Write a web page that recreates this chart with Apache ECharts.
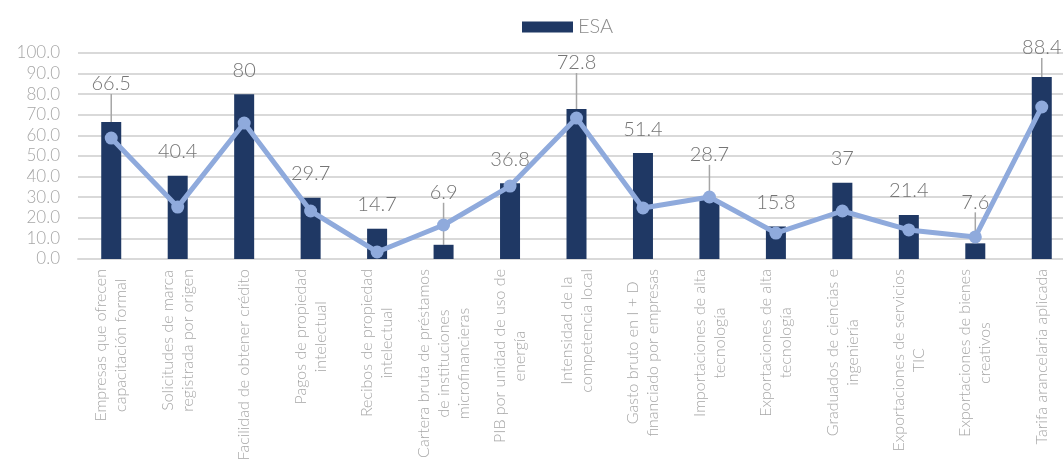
<!DOCTYPE html>
<html>
<head>
<meta charset="utf-8">
<script src="https://cdn.jsdelivr.net/npm/echarts@6/dist/echarts.min.js"></script>
<style>
  html, body { margin: 0; padding: 0; background: #fff; }
  #chart { width: 1063px; height: 469px; }
</style>
</head>
<body>
<div id="chart"></div>
<script>
  // categorias del eje x (saltos de linea como en el original)
  var categories = [
    'Empresas que ofrecen\ncapacitación formal',
    'Solicitudes de marca\nregistrada por origen',
    'Facilidad de obtener crédito',
    'Pagos de propiedad\nintelectual',
    'Recibos de propiedad\nintelectual',
    'Cartera bruta de préstamos\nde instituciones\nmicrofinancieras',
    'PIB por unidad de uso de\nenergía',
    'Intensidad de la\ncompetencia local',
    'Gasto bruto en I + D\nfinanciado por empresas',
    'Importaciones de alta\ntecnología',
    'Exportaciones de alta\ntecnología',
    'Graduados de ciencias e\ningeniería',
    'Exportaciones de servicios\nTIC',
    'Exportaciones de bienes\ncreativos',
    'Tarifa arancelaria aplicada'
  ];
  var esaValues = [66.5, 40.4, 80, 29.7, 14.7, 6.9, 36.8, 72.8, 51.4, 28.7, 15.8, 37, 21.4, 7.6, 88.4];
  var refValues = [58.7, 25.2, 66.0, 23.3, 3.4, 16.5, 35.4, 68.4, 24.8, 30.1, 12.6, 23.3, 14.1, 10.7, 73.8];
  var yTicks = [0, 10, 20, 30, 40, 50, 60, 70, 80, 90, 100];

  // desplazamiento extra (px) de las etiquetas movidas a mano
  var labelLift = [14, 0, 0, 0, 0, 28, 0, 22, 0, 21, 0, 0, 0, 17, 5];

  var myChart = echarts.init(document.getElementById('chart'));
  var font = 'Lato, "Open Sans", sans-serif';

  // solo las etiquetas movidas llevan linea guia
  var barData = esaValues.map(function (v, i) {
    return { value: v, labelLine: { show: labelLift[i] > 0 } };
  });

  var option = {
    animation: false,
    textStyle: { fontFamily: font },
    legend: {
      data: ['ESA'],
      left: 517,
      top: 12,
      itemWidth: 51,
      itemHeight: 11,
      itemGap: 6,
      icon: 'rect',
      textStyle: { fontSize: 20, color: '#8c8c8c', fontWeight: 300, fontFamily: font }
    },
    grid: {
      top: 53,
      left: 78,
      right: -12,
      bottom: 210,
      containLabel: false,
      outerBoundsMode: 'none'
    },
    xAxis: {
      type: 'category',
      data: categories,
      axisTick: { show: false },
      axisLine: { lineStyle: { color: '#d9d9d9', width: 2 } },
      axisLabel: {
        interval: 0,
        rotate: 90,
        margin: 10,
        color: '#a6a6a6',
        formatter: function (v) {
          return v.split('\n').map(function (s) { return '{c|' + s + '}'; }).join('\n');
        },
        rich: {
          c: {
            align: 'center',
            fontSize: 16,
            lineHeight: 20,
            color: '#a6a6a6',
            fontWeight: 300,
            fontFamily: font
          }
        }
      }
    },
    yAxis: {
      type: 'value',
      min: yTicks[0],
      max: yTicks[yTicks.length - 1],
      interval: yTicks[1] - yTicks[0],
      axisLine: { show: false },
      axisTick: { show: false },
      splitLine: { lineStyle: { color: '#d9d9d9', width: 2 } },
      axisLabel: {
        margin: 18,
        fontSize: 17,
        color: '#a6a6a6',
        fontWeight: 300,
        formatter: function (v) { return v.toFixed(1); }
      }
    },
    series: [
      {
        name: 'ESA',
        type: 'bar',
        data: barData,
        barWidth: 20,
        itemStyle: { color: '#1f3864' },
        label: {
          show: true,
          position: 'top',
          distance: 14,
          fontSize: 20,
          color: '#757575',
          fontWeight: 300,
          fontFamily: font
        },
        labelLayout: function (params) {
          return { dy: -labelLift[params.dataIndex] };
        },
        labelLine: {
          show: true,
          lineStyle: { color: '#a6a6a6', width: 1.5 }
        },
        z: 2
      },
      {
        name: 'Referencia',
        type: 'line',
        data: refValues,
        symbol: 'circle',
        symbolSize: 13,
        lineStyle: { color: '#8faadc', width: 5 },
        itemStyle: { color: '#8faadc' },
        z: 3
      }
    ]
  };
  myChart.setOption(option);
</script>
</body>
</html>
